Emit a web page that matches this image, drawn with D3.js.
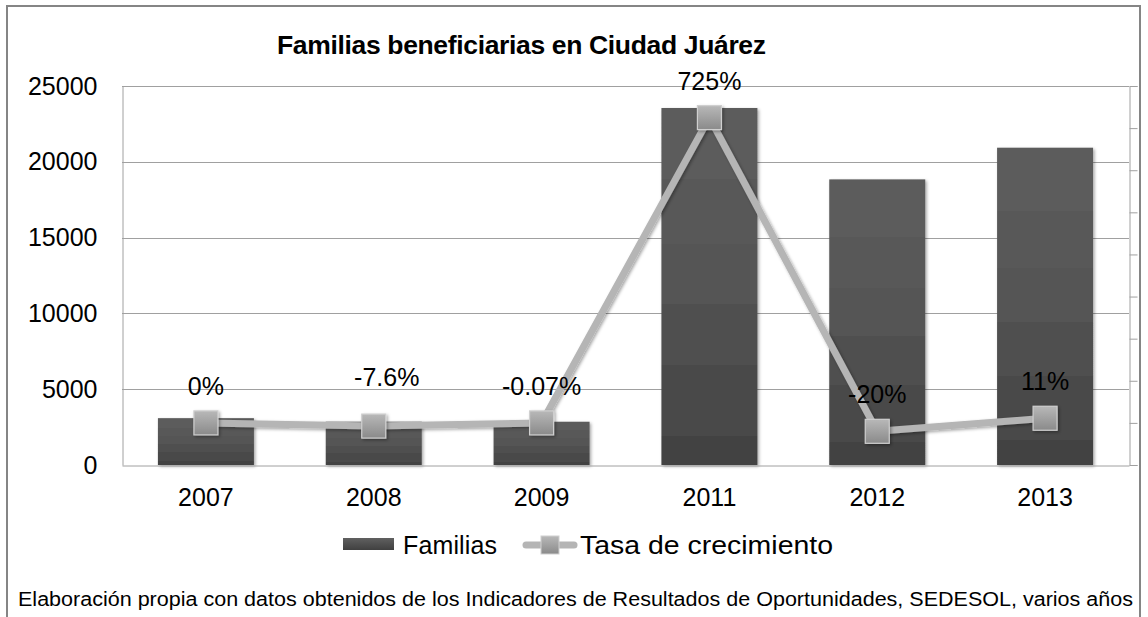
<!DOCTYPE html>
<html><head><meta charset="utf-8">
<script src="https://cdn.jsdelivr.net/npm/d3@7"></script>
<style>
html,body{margin:0;padding:0;background:#fff;}
svg text{font-family:"Liberation Sans",Arial,sans-serif;fill:#000;}
</style></head>
<body>
<svg id="c" width="1148" height="617"></svg>
<script>
const years = ["2007","2008","2009","2011","2012","2013"];
const familias = [3090, 2856, 2854, 23550, 18840, 20930];
const tasa = [0, -7.6, -0.07, 725, -20, 11];
const tasaLabels = ["0%","-7.6%","-0.07%","725%","-20%","11%"];
const leftTicks = [0, 5000, 10000, 15000, 20000, 25000];
const rightTicks = [-100, 0, 100, 200, 300, 400, 500, 600, 700, 800];
const title = "Familias beneficiarias en Ciudad Juárez";
const seriesNames = ["Familias", "Tasa de crecimiento"];
const footer = "Elaboración propia con datos obtenidos de los Indicadores de Resultados  de Oportunidades, SEDESOL, varios años";

const svg = d3.select("#c");
const L = 122, R = 1129, T = 86, B = 465;

const defs = svg.append("defs");
const bg = defs.append("linearGradient").attr("id","barGrad").attr("x1",0).attr("y1",0).attr("x2",0).attr("y2",1);
const bands = [["0","#5c5c5c"],["0.2","#5c5c5c"],["0.2","#585858"],["0.38","#585858"],["0.38","#545454"],["0.55","#545454"],["0.55","#4f4f4f"],["0.72","#4f4f4f"],["0.72","#494949"],["0.92","#494949"],["0.92","#424242"],["1","#424242"]];
bands.forEach(([o,c])=>bg.append("stop").attr("offset",o).attr("stop-color",c));
const mg = defs.append("linearGradient").attr("id","mkGrad").attr("x1",0).attr("y1",0).attr("x2",0).attr("y2",1);
mg.append("stop").attr("offset","0").attr("stop-color","#b8b8b8");
mg.append("stop").attr("offset","1").attr("stop-color","#8a8a8a");
const lg = defs.append("linearGradient").attr("id","legGrad").attr("x1",0).attr("y1",0).attr("x2",0).attr("y2",1);
lg.append("stop").attr("offset","0").attr("stop-color","#606060");
lg.append("stop").attr("offset","1").attr("stop-color","#404040");
const sh = defs.append("filter").attr("id","shadow").attr("x","-20%").attr("y","-20%").attr("width","150%").attr("height","150%");
sh.append("feDropShadow").attr("dx",1.5).attr("dy",1.5).attr("stdDeviation",1.5).attr("flood-color","#000").attr("flood-opacity",0.35);

// outer frame
svg.append("rect").attr("x",7).attr("y",6).attr("width",1133).attr("height",640)
  .attr("fill","none").attr("stroke","#858585").attr("stroke-width",2);

const x = d3.scaleBand().domain(years).range([L,R]).paddingInner(0.428).paddingOuter(0.214);
const y = d3.scaleLinear().domain([0,25000]).range([B,T]);
const y2 = d3.scaleLinear().domain([-100,800]).range([B,T]);

// gridlines
svg.append("g").selectAll("line").data(leftTicks.filter(d=>d>0)).join("line")
  .attr("x1",L).attr("x2",R).attr("y1",d=>Math.round(y(d))+0.5).attr("y2",d=>Math.round(y(d))+0.5)
  .attr("stroke","#a0a0a0").attr("stroke-width",1);

// left axis
const ga = svg.append("g").attr("transform",`translate(${L+0.5},0)`)
  .call(d3.axisLeft(y).tickValues(leftTicks).tickSize(0).tickPadding(25).tickFormat(d3.format("d")));
ga.select(".domain").attr("stroke","#a0a0a0");
ga.selectAll("text").attr("font-size",25).attr("font-family","Liberation Sans, Arial");

// right axis
const gr = svg.append("g").attr("transform",`translate(${R+0.5},0)`)
  .call(d3.axisRight(y2).tickValues(rightTicks).tickSize(8).tickFormat(""));
gr.select(".domain").attr("stroke","#a0a0a0");
gr.selectAll("line").attr("stroke","#a0a0a0");

// bars
svg.append("g").selectAll("rect").data(familias).join("rect")
  .attr("x",(d,i)=>x(years[i])).attr("width",x.bandwidth())
  .attr("y",d=>y(d)).attr("height",d=>B-y(d))
  .attr("fill","url(#barGrad)").attr("filter","url(#shadow)");

// bottom axis
const gb = svg.append("g").attr("transform",`translate(0,${B+0.5})`)
  .call(d3.axisBottom(x).tickSize(0).tickPadding(23));
gb.select(".domain").attr("stroke","#a0a0a0");
gb.selectAll("text").attr("font-size",25).attr("font-family","Liberation Sans, Arial");

// line
const cx = (i)=>x(years[i])+x.bandwidth()/2;
const line = d3.line().x((d,i)=>cx(i)).y(d=>y2(d));
svg.append("path").datum(tasa).attr("d",line).attr("fill","none")
  .attr("stroke","#b5b5b5").attr("stroke-width",7).attr("stroke-linejoin","round").attr("filter","url(#shadow)");
const ms = 24;
svg.append("g").selectAll("rect").data(tasa).join("rect")
  .attr("x",(d,i)=>cx(i)-ms/2).attr("y",d=>y2(d)-ms/2).attr("width",ms).attr("height",ms)
  .attr("fill","url(#mkGrad)").attr("stroke","#cfcfcf").attr("stroke-width",1.2).attr("filter","url(#shadow)");

// data labels
svg.append("g").selectAll("text").data(tasa).join("text")
  .attr("x",(d,i)=>cx(i) + (i===1?13:0)).attr("y",(d,i)=>y2(d)-28-(i===1?12:0))
  .attr("text-anchor","middle").attr("font-size",25).text((d,i)=>tasaLabels[i]);

// title
svg.append("text").attr("x",277).attr("y",54)
  .attr("font-size",26.5).attr("font-weight","bold")
  .attr("textLength",489).attr("lengthAdjust","spacing").text(title);

// legend
const lgG = svg.append("g");
lgG.append("rect").attr("x",343).attr("y",538).attr("width",51).attr("height",12).attr("fill","url(#legGrad)");
lgG.append("text").attr("x",403).attr("y",554).attr("font-size",25)
  .attr("textLength",94).attr("lengthAdjust","spacing").text(seriesNames[0]);
lgG.append("line").attr("x1",526).attr("x2",574).attr("y1",545).attr("y2",545)
  .attr("stroke","#b5b5b5").attr("stroke-width",7).attr("stroke-linecap","round");
lgG.append("rect").attr("x",541).attr("y",536).attr("width",18).attr("height",18)
  .attr("fill","url(#mkGrad)").attr("stroke","#cfcfcf").attr("stroke-width",1);
lgG.append("text").attr("x",580).attr("y",554).attr("font-size",25)
  .attr("textLength",253).attr("lengthAdjust","spacingAndGlyphs").text(seriesNames[1]);

// footer
svg.append("text").attr("x",18).attr("y",606).attr("font-size",20)
  .attr("textLength",1115).attr("lengthAdjust","spacingAndGlyphs").text(footer);
</script>
</body></html>
